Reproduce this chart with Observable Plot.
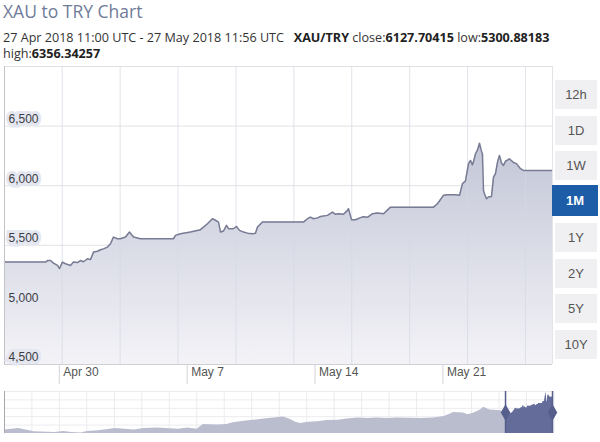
<!DOCTYPE html>
<html><head><meta charset="utf-8">
<script src="https://cdn.jsdelivr.net/npm/d3@7"></script>
<script src="https://cdn.jsdelivr.net/npm/@observablehq/plot@0.6"></script>
<style>
body{margin:0;background:#fff;width:600px;height:442px;position:relative;overflow:hidden;font-family:"Liberation Sans",Arial,sans-serif;}
#title{position:absolute;left:3px;top:-1px;font-family:"Open Sans",sans-serif;font-size:17.5px;color:#6f7c99;white-space:nowrap;}
#sub{position:absolute;left:3px;top:30px;font-family:"Open Sans",sans-serif;font-size:12.6px;line-height:16px;color:#333;white-space:nowrap;letter-spacing:0px;}
#sub b{font-weight:700;color:#222;}
#main{position:absolute;left:0;top:62px;}
#nav{position:absolute;left:0;top:388px;}
.btn{position:absolute;left:555px;width:42px;height:29px;background:#f0f0f2;color:#555;font-size:13px;display:flex;align-items:center;justify-content:center;}
.btn.on{left:552px;width:46px;height:31px;background:#1d5ca7;color:#fff;font-weight:bold;}
</style></head>
<body>
<div id="title">XAU to TRY Chart</div>
<div id="sub">27 Apr 2018 11:00 UTC - 27 May 2018 11:56 UTC&nbsp;&nbsp;&nbsp;<b>XAU/TRY</b> close:<b>6127.70415</b> low:<b>5300.88183</b><br>high:<b>6356.34257</b></div>
<div id="main"></div>
<div id="nav"></div>
<div id="btns"></div>
<script>
// ---- data ----
const mainDates = ["2018-04-27T00:00","2018-04-29T06:00","2018-04-29T08:30","2018-04-29T12:30","2018-04-29T16:20","2018-04-29T21:40","2018-04-30T00:15","2018-04-30T04:10","2018-04-30T08:10","2018-04-30T14:40","2018-04-30T18:40","2018-04-30T23:50","2018-05-01T03:50","2018-05-01T07:50","2018-05-01T13:00","2018-05-01T17:00","2018-05-01T21:00","2018-05-02T02:10","2018-05-02T06:10","2018-05-02T10:00","2018-05-02T15:20","2018-05-02T19:15","2018-05-02T23:10","2018-05-03T04:30","2018-05-03T08:20","2018-05-03T15:00","2018-05-03T20:15","2018-05-04T01:30","2018-05-04T10:40","2018-05-06T06:00","2018-05-06T08:40","2018-05-06T15:15","2018-05-07T04:20","2018-05-07T17:30","2018-05-08T02:40","2018-05-08T09:15","2018-05-08T13:15","2018-05-08T17:10","2018-05-08T19:50","2018-05-08T23:45","2018-05-09T03:40","2018-05-09T06:20","2018-05-09T12:50","2018-05-09T16:50","2018-05-09T20:45","2018-05-10T02:00","2018-05-10T07:15","2018-05-10T13:50","2018-05-10T17:45","2018-05-10T20:25","2018-05-11T03:00","2018-05-13T08:50","2018-05-13T14:05","2018-05-13T18:00","2018-05-13T22:00","2018-05-14T03:15","2018-05-14T07:10","2018-05-14T16:20","2018-05-14T23:00","2018-05-15T02:50","2018-05-15T06:50","2018-05-15T13:25","2018-05-15T18:40","2018-05-15T20:00","2018-05-15T23:55","2018-05-16T05:10","2018-05-16T11:45","2018-05-16T15:40","2018-05-16T21:00","2018-05-17T03:30","2018-05-17T10:00","2018-05-17T18:00","2018-05-18T03:10","2018-05-20T11:40","2018-05-20T16:50","2018-05-21T00:45","2018-05-21T06:00","2018-05-21T16:30","2018-05-21T21:50","2018-05-22T01:45","2018-05-22T05:40","2018-05-22T09:40","2018-05-22T12:15","2018-05-22T14:50","2018-05-22T16:10","2018-05-22T18:50","2018-05-22T21:30","2018-05-23T00:05","2018-05-23T02:40","2018-05-23T04:00","2018-05-23T05:20","2018-05-23T06:40","2018-05-23T09:15","2018-05-23T11:55","2018-05-23T15:50","2018-05-23T18:30","2018-05-23T21:05","2018-05-23T23:45","2018-05-24T02:20","2018-05-24T05:00","2018-05-24T07:35","2018-05-24T10:15","2018-05-24T12:50","2018-05-24T15:30","2018-05-24T18:05","2018-05-24T20:45","2018-05-25T00:40","2018-05-25T06:00","2018-05-25T09:50","2018-05-27T00:00"];
const mainValues = [5359,5359,5372,5372,5350,5331,5305,5359,5345,5331,5359,5355,5372,5362,5387,5380,5443,5450,5463,5470,5485,5513,5569,5555,5555,5569,5611,5569,5555,5555,5583,5597,5611,5631,5681,5723,5710,5695,5611,5620,5667,5639,5639,5658,5625,5611,5602,5597,5602,5653,5695,5695,5723,5737,5723,5730,5742,5751,5779,5760,5765,5760,5793,5807,5714,5714,5732,5740,5735,5765,5770,5765,5820,5820,5849,5919,5925,5925,5919,6017,6040,6185,6212,6175,6200,6268,6300,6356,6290,6265,5960,5933,5891,5905,5910,6072,6101,6198,6254,6190,6170,6205,6215,6226,6210,6195,6185,6143,6128,6128];

const navDates = ["2017-06-11","2017-06-20","2017-06-30","2017-07-13","2017-07-19","2017-07-24","2017-07-30","2017-08-03","2017-08-10","2017-08-21","2017-09-02","2017-09-08","2017-09-17","2017-09-30","2017-10-06","2017-10-12","2017-10-16","2017-10-25","2017-10-31","2017-11-04","2017-11-11","2017-11-17","2017-11-24","2017-11-30","2017-12-06","2017-12-10","2017-12-14","2017-12-17","2017-12-22","2017-12-28","2018-01-03","2018-01-10","2018-01-16","2018-01-23","2018-01-29","2018-02-04","2018-02-11","2018-02-17","2018-03-04","2018-03-12","2018-03-19","2018-03-25","2018-03-31","2018-04-03","2018-04-07","2018-04-11","2018-04-13","2018-04-17","2018-04-24"];
const navValues = [4554,4619,4462,4434,4480,4434,4402,4480,4508,4619,4554,4619,4647,4587,4647,4587,4818,4786,4818,4897,4971,5017,5082,5128,5175,5082,4925,4865,4925,4943,5003,5017,5082,5128,5096,5128,5096,5128,5096,5128,5203,5388,5360,5281,5360,5513,5638,5513,5480];

const yTickValues = [4500, 5000, 5500, 6000, 6500];
const xTickLabels = ["2018-04-30", "2018-05-07", "2018-05-14", "2018-05-21"];
const ranges = ["12h", "1D", "1W", "1M", "1Y", "2Y", "5Y", "10Y"];
const activeRange = "1M";

// ---- build tables ----
const utc = s => new Date(s + (s.length > 10 ? ":00Z" : "T00:00:00Z"));
const main = mainDates.map((d, i) => ({date: utc(d), value: mainValues[i]}));
const hist = navDates.map((d, i) => ({date: utc(d), value: navValues[i]}));
const navAll = hist.concat(main);
const xStart = utc("2018-04-27"), xEnd = utc("2018-05-27");
const xTicks = xTickLabels.map(utc);
// decorative background grid (evenly spaced, not data)
const gridX = d3.range(9).map(i => new Date(+xStart + (3.16 + i * 3.17) * 864e5));

const defs = () => {
  const s = d3.create("svg:defs");
  const g = s.append("linearGradient").attr("id", "areaGrad").attr("x1", 0).attr("y1", 0).attr("x2", 0).attr("y2", 1);
  g.append("stop").attr("offset", "0%").attr("stop-color", "#c3c6d7");
  g.append("stop").attr("offset", "100%").attr("stop-color", "#f3f3f7");
  return s.node();
};

const chart = Plot.plot({
  width: 552, height: 322,
  marginTop: 4, marginBottom: 20, marginLeft: 4, marginRight: 0,
  style: {fontFamily: "'Liberation Sans', Arial, sans-serif", overflow: "visible"},
  x: {type: "utc", domain: [xStart, xEnd], axis: null},
  y: {domain: [4500, 7000], axis: null},
  marks: [
    defs,
    Plot.ruleY([5000, 5500, 6000, 6500, 7000], {stroke: "#e2e2e4"}),
    Plot.areaY(main, {x: "date", y1: 4500, y2: "value", fill: "url(#areaGrad)"}),
    Plot.ruleX(gridX, {stroke: "#d6d8e2", strokeOpacity: 0.7}),
    Plot.lineY(main, {x: "date", y: "value", stroke: "#777b93", strokeWidth: 1.5}),
    Plot.ruleY([4500], {stroke: "#d0d0d4"}),
    Plot.ruleX([xStart], {stroke: "#c4c4c8"}),
    Plot.ruleX([xEnd], {stroke: "#e4e4e8"}),
    Plot.axisX(xTicks, {tickSize: 20, tickFormat: () => "", stroke: "#d4d4d8"}),
    Plot.axisX(xTicks, {tickSize: 0, tickPadding: 3, textAnchor: "start", dx: 4, fontSize: 12, fill: "#555", tickFormat: d3.utcFormat("%b %-d")}),
    Plot.text(yTickValues, {y: d => d, frameAnchor: "left", dx: 4, dy: -7, text: d => d3.format(",")(d),
      textAnchor: "start", fontSize: 12, fill: "#3d3d45", stroke: "#e4e6f0", strokeWidth: 6, strokeLinejoin: "miter"})
  ]
});
document.getElementById("main").append(chart);

const navStart = utc("2017-06-11");
const navGridX = d3.range(20).map(i => new Date(+navStart + (17.5 + i * 17.55) * 864e5));
const nav = Plot.plot({
  width: 560, height: 50,
  marginTop: 3, marginBottom: 5, marginLeft: 4, marginRight: 8,
  style: {overflow: "visible"},
  x: {type: "utc", domain: [navStart, xEnd], axis: null},
  y: {domain: [4380, 6400], axis: null},
  marks: [
    Plot.ruleY(d3.range(5).map(i => 6400 - i * 404), {stroke: "#ececef"}),
    Plot.ruleX(navGridX, {stroke: "#ececef"}),
    Plot.areaY(navAll, {x: "date", y1: 4380, y2: "value", fill: "#b9bdce"}),
    Plot.areaY(main, {x: "date", y1: 4380, y2: "value", fill: "#646c99"}),
    Plot.ruleX([navStart], {stroke: "#a8a8ae"}),
    Plot.ruleX([xStart, xEnd], {stroke: "#565e8c", strokeWidth: 1.5}),
    Plot.dot([xStart, xEnd], {x: d => d, symbol: "diamond", r: 5, fill: "#565e8c"})
  ]
});
document.getElementById("nav").append(nav);

const btns = document.getElementById("btns");
ranges.forEach((r, i) => {
  const b = document.createElement("div");
  b.className = "btn" + (r === activeRange ? " on" : "");
  b.textContent = r;
  b.style.top = (r === activeRange ? 79 + i * 35.7 - 1 : 80 + i * 35.7) + "px";
  btns.append(b);
});
</script>
</body></html>
